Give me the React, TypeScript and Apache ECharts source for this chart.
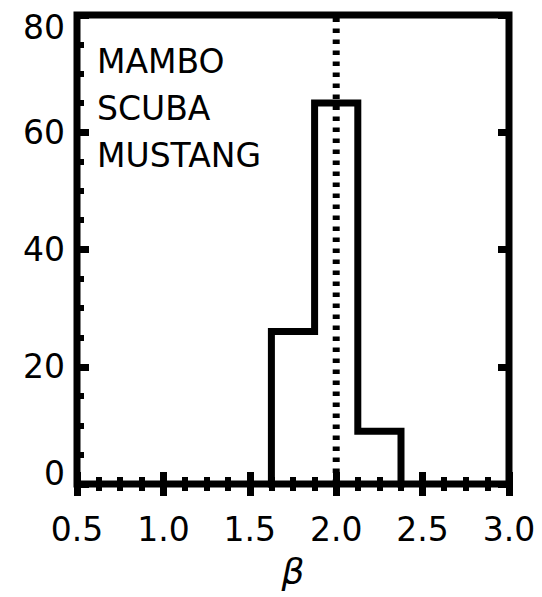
import React, { useEffect, useRef } from "react";
import * as echarts from "echarts";

// Histogram of the dust emissivity index beta
const binEdges = [1.625, 1.875, 2.125, 2.375];
const binCounts = [26, 65, 9];
const betaReference = 2.0;

// Axis ranges and tick spacing
const xRange = [0.5, 3.0];
const xStep = 0.5;
const yRange = [0, 80];
const yStep = 20;

// Instrument names listed in the upper-left corner
const instruments = ["MAMBO", "SCUBA", "MUSTANG"];

const FONT = "DejaVu Sans";

function stepOutline(edges: number[], counts: number[]): number[][] {
  const pts: number[][] = [[edges[0], 0]];
  counts.forEach((c, i) => {
    pts.push([edges[i], c]);
    pts.push([edges[i + 1], c]);
  });
  pts.push([edges[edges.length - 1], 0]);
  return pts;
}

export default function App() {
  const ref = useRef<HTMLDivElement>(null);

  useEffect(() => {
    if (!ref.current) return;
    const chart = echarts.init(ref.current, undefined, { renderer: "svg" });

    const tickStyle = { color: "#000", width: 7 };
    const minorStyle = { color: "#000", width: 6 };

    chart.setOption({
      animation: false,
      backgroundColor: "#fff",
      grid: {
        left: 77,
        right: 33,
        top: 15,
        bottom: 113,
        show: true,
        borderColor: "#000",
        borderWidth: 7,
        backgroundColor: "transparent",
      },
      xAxis: [
        {
          type: "value",
          position: "bottom",
          min: xRange[0],
          max: xRange[1],
          interval: xStep,
          axisLine: { show: false },
          splitLine: { show: false },
          axisTick: { show: true, inside: true, length: 12, lineStyle: tickStyle },
          minorTick: { show: true, splitNumber: 4, length: 7, lineStyle: minorStyle },
          axisLabel: {
            margin: 29,
            fontFamily: FONT,
            fontSize: 33,
            color: "#000",
            formatter: (v: number) => v.toFixed(1),
          },
          name: "β",
          nameLocation: "middle",
          nameGap: 69,
          nameTextStyle: {
            fontFamily: FONT,
            fontSize: 36,
            fontStyle: "italic",
            color: "#000",
          },
        },
        {
          type: "value",
          position: "top",
          min: xRange[0],
          max: xRange[1],
          interval: xStep,
          axisLine: { show: false },
          splitLine: { show: false },
          axisTick: { show: true, inside: true, length: 12, lineStyle: tickStyle },
          minorTick: { show: true, splitNumber: 4, length: 7, lineStyle: minorStyle },
          axisLabel: { show: false },
        },
      ],
      yAxis: [
        {
          type: "value",
          position: "left",
          min: yRange[0],
          max: yRange[1],
          interval: yStep,
          axisLine: { show: false },
          splitLine: { show: false },
          axisTick: { show: true, inside: true, length: 12, lineStyle: tickStyle },
          minorTick: { show: true, splitNumber: 4, length: 7, lineStyle: minorStyle },
          axisLabel: {
            margin: 12,
            fontFamily: FONT,
            fontSize: 33,
            color: "#000",
            formatter: (v: number) => {
              if (v === yRange[0]) return `{lo|${v}}`;
              if (v === yRange[1]) return `{hi|${v}}`;
              return String(v);
            },
            rich: {
              lo: { fontFamily: FONT, fontSize: 33, color: "#000", padding: [0, 0, 22, 0] },
              hi: { fontFamily: FONT, fontSize: 33, color: "#000", padding: [24, 0, 0, 0] },
            },
          },
        },
        {
          type: "value",
          position: "right",
          min: yRange[0],
          max: yRange[1],
          interval: yStep,
          axisLine: { show: false },
          splitLine: { show: false },
          axisTick: { show: true, inside: true, length: 11, lineStyle: tickStyle },
          minorTick: { show: false },
          axisLabel: { show: false },
        },
      ],
      series: [
        {
          type: "line",
          xAxisIndex: 0,
          yAxisIndex: 0,
          data: stepOutline(binEdges, binCounts),
          showSymbol: false,
          symbol: "none",
          clip: false,
          lineStyle: { color: "#000", width: 7, join: "miter", cap: "square" },
          z: 3,
        },
        {
          type: "line",
          xAxisIndex: 0,
          yAxisIndex: 0,
          data: [
            [betaReference, yRange[0]],
            [betaReference, yRange[1]],
          ],
          showSymbol: false,
          symbol: "none",
          clip: false,
          lineStyle: { color: "#000", width: 7, type: [4.5, 6.5], cap: "butt" },
          z: 2,
        },
      ],
      graphic: instruments.map((name, i) => ({
        type: "text",
        x: 97,
        y: 61.5 + i * 47,
        style: {
          text: name,
          fontFamily: FONT,
          fontSize: 33,
          fill: "#000",
          textAlign: "left",
          textVerticalAlign: "middle",
        },
      })),
    });

    return () => chart.dispose();
  }, []);

  return (
    <div
      ref={ref}
      style={{ position: "absolute", left: 0, top: 0, width: 542, height: 597 }}
    />
  );
}
